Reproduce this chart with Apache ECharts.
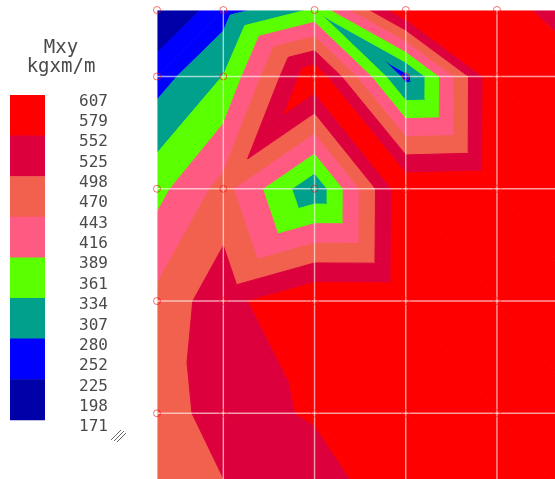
<!DOCTYPE html>
<html>
<head>
<meta charset="utf-8">
<script src="https://cdn.jsdelivr.net/npm/echarts@6/dist/echarts.min.js"></script>
<style>
  html, body { margin: 0; padding: 0; background: #ffffff; }
  #chart { width: 555px; height: 479px; }
</style>
</head>
<body>
<div id="chart"></div>
<script>
// Mesh node coordinates (m)
const xNodes = [0, 0.8, 1.9, 3.0, 4.1, 5.2];
const yNodes = [0, 0.8, 2.15, 3.5, 4.85, 6.2];

// Mxy at the mesh nodes (kgxm/m), one row per entry of yNodes
const mxyRow0 = [171, 254, 342, 600, 600, 474];
const mxyRow1 = [256, 336, 597, 262, 605, 573];
const mxyRow2 = [371, 462, 292, 600, 607, 600];
const mxyRow3 = [457, 533, 604, 603, 605, 600];
const mxyRow4 = [469, 524, 560, 600, 600, 600];
const mxyRow5 = [462, 479, 489, 576, 600, 600];
const nodeValues = [mxyRow0, mxyRow1, mxyRow2, mxyRow3, mxyRow4, mxyRow5];

// Diagonal that splits each quad into triangles:
// 'd' = top-left to bottom-right, 'a' = top-right to bottom-left
const cellSplit = [
  ['a', 'd', 'd', 'd', 'd'],
  ['a', 'a', 'd', 'd', 'd'],
  ['a', 'a', 'd', 'd', 'd'],
  ['a', 'd', 'd', 'd', 'd'],
  ['d', 'd', 'd', 'd', 'd']
];

// Colour scale
const levelLabels = [607, 579, 552, 525, 498, 470, 443, 416, 389, 361, 334, 307, 280, 252, 225, 198, 171];
const bandBreaks = [171, 225.5, 280, 334.5, 389, 443.5, 498, 552.5, 607];
const bandColors = ['#0000a8', '#0000ff', '#00a08c', '#5aff00', '#ff5a82', '#f2604e', '#dc003c', '#ff0000'];

// Reference grid lines (m)
const gridX = [0, 0.8, 1.9, 3.0, 4.1];
const gridY = [0, 0.8, 2.15, 3.5, 4.85];

const X_MAX = 4.8;
const Y_MAX = 5.64;

// Triangles of the mesh: [x1, y1, v1, x2, y2, v2, x3, y3, v3]
function nodeAt(i, j) { return [xNodes[i], yNodes[j], nodeValues[j][i]]; }
const triangles = [];
for (let j = 0; j < yNodes.length - 1; j++) {
  for (let i = 0; i < xNodes.length - 1; i++) {
    const tl = nodeAt(i, j), tr = nodeAt(i + 1, j);
    const bl = nodeAt(i, j + 1), br = nodeAt(i + 1, j + 1);
    if (cellSplit[j][i] === 'd') {
      triangles.push([...tl, ...tr, ...br], [...tl, ...br, ...bl]);
    } else {
      triangles.push([...tl, ...tr, ...bl], [...tr, ...br, ...bl]);
    }
  }
}

// Nodes that carry a marker
const nodeMarks = [];
xNodes.forEach(function (x) {
  yNodes.forEach(function (y) {
    if (x <= X_MAX && y <= Y_MAX) nodeMarks.push([x, y]);
  });
});

// Lines of the reference grid: [xa, ya, xb, yb]
const gridLines = gridX.map(x => [x, 0, x, Y_MAX]).concat(gridY.map(y => [0, y, X_MAX, y]));

// Keep the part of a polygon on one side of a level (linear along edges)
function clipPoly(poly, level, keepAbove) {
  const out = [];
  for (let i = 0; i < poly.length; i++) {
    const a = poly[i], b = poly[(i + 1) % poly.length];
    const ina = keepAbove ? a.v >= level : a.v < level;
    const inb = keepAbove ? b.v >= level : b.v < level;
    if (ina) out.push(a);
    if (ina !== inb) {
      const t = (level - a.v) / (b.v - a.v);
      out.push({
        p: [a.p[0] + t * (b.p[0] - a.p[0]), a.p[1] + t * (b.p[1] - a.p[1])],
        v: level
      });
    }
  }
  return out;
}

// Each triangle is cut into the slices that fall inside each colour band
function renderBands(params, api) {
  const tri = [0, 1, 2].map(k => ({
    p: api.coord([api.value(3 * k), api.value(3 * k + 1)]),
    v: api.value(3 * k + 2)
  }));
  const children = [];
  for (let b = 0; b < bandColors.length; b++) {
    let poly = tri;
    if (b > 0) poly = clipPoly(poly, bandBreaks[b], true);
    if (poly.length >= 3 && b < bandColors.length - 1) poly = clipPoly(poly, bandBreaks[b + 1], false);
    if (poly.length >= 3) {
      children.push({
        type: 'polygon',
        shape: { points: poly.map(q => q.p) },
        style: { fill: bandColors[b], stroke: bandColors[b], lineWidth: 1, lineJoin: 'round' }
      });
    }
  }
  return { type: 'group', children: children };
}

function renderGridLine(params, api) {
  const a = api.coord([api.value(0), api.value(1)]);
  const b = api.coord([api.value(2), api.value(3)]);
  return {
    type: 'line',
    shape: { x1: a[0], y1: a[1], x2: b[0], y2: b[1] },
    style: { stroke: 'rgba(255,255,255,0.62)', lineWidth: 1.4 }
  };
}

// Colour key
const KEY_X = 10, KEY_TOP = 95, KEY_W = 35, KEY_H = 40.6;
const TEXT_COLOR = '#4a4a4a';
const keyGraphics = [];
bandColors.slice().reverse().forEach(function (c, i) {
  keyGraphics.push({
    type: 'rect',
    shape: { x: KEY_X, y: KEY_TOP + i * KEY_H, width: KEY_W, height: KEY_H + 0.5 },
    style: { fill: c }
  });
});
levelLabels.forEach(function (lab, i) {
  keyGraphics.push({
    type: 'text',
    x: 79, y: 101.5 + i * 20.35,
    style: {
      text: String(lab), font: '16px "DejaVu Sans Mono"', fill: TEXT_COLOR,
      align: 'left', verticalAlign: 'middle'
    }
  });
});
keyGraphics.push({
  type: 'text', x: 61, y: 48,
  style: { text: 'Mxy', font: '19px "DejaVu Sans Mono"', fill: TEXT_COLOR, align: 'center', verticalAlign: 'middle' }
});
keyGraphics.push({
  type: 'text', x: 61, y: 67,
  style: { text: 'kgxm/m', font: '19px "DejaVu Sans Mono"', fill: TEXT_COLOR, align: 'center', verticalAlign: 'middle' }
});
[[111, 440, 121, 430], [114, 441, 124, 431], [117, 442, 126, 433]].forEach(function (l) {
  keyGraphics.push({
    type: 'line',
    shape: { x1: l[0], y1: l[1], x2: l[2], y2: l[3] },
    style: { stroke: '#666666', lineWidth: 1 }
  });
});

const chart = echarts.init(document.getElementById('chart'), null, { renderer: 'canvas' });
chart.setOption({
  animation: false,
  backgroundColor: '#ffffff',
  grid: { left: 157, top: 10, width: 398, height: 469 },
  xAxis: { type: 'value', min: 0, max: X_MAX, show: false },
  yAxis: { type: 'value', min: 0, max: Y_MAX, inverse: true, show: false },
  series: [
    {
      type: 'custom',
      coordinateSystem: 'cartesian2d',
      clip: true,
      silent: true,
      z: 1,
      dimensions: ['x1', 'y1', 'v1', 'x2', 'y2', 'v2', 'x3', 'y3', 'v3'],
      encode: { x: [0, 3, 6], y: [1, 4, 7] },
      data: triangles,
      renderItem: renderBands
    },
    {
      type: 'custom',
      coordinateSystem: 'cartesian2d',
      clip: true,
      silent: true,
      z: 2,
      encode: { x: [0, 2], y: [1, 3] },
      data: gridLines,
      renderItem: renderGridLine
    },
    {
      type: 'scatter',
      clip: false,
      silent: true,
      z: 3,
      symbol: 'circle',
      symbolSize: 7,
      itemStyle: { color: 'rgba(0,0,0,0)', borderColor: 'rgba(240,20,20,0.75)', borderWidth: 1 },
      data: nodeMarks
    }
  ],
  graphic: keyGraphics
});
</script>
</body>
</html>
